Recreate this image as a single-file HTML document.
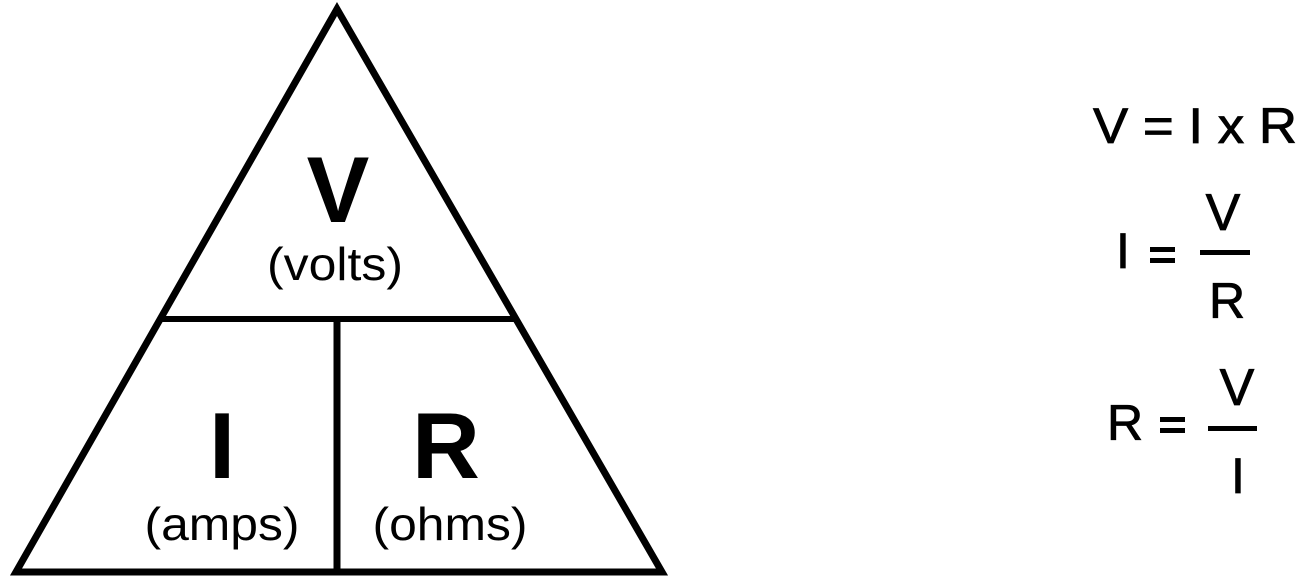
<!DOCTYPE html>
<html><head><meta charset="utf-8"><style>
html,body{margin:0;padding:0;background:#fff;}
svg{display:block;}
text{font-family:"Liberation Sans",sans-serif;fill:#000;}
.f{stroke:#000;stroke-width:0.8;}
</style></head><body>
<svg width="1298" height="578" viewBox="0 0 1298 578">
<polygon points="337,9 16,572 662,572" fill="none" stroke="#000" stroke-width="7" stroke-linejoin="miter"/>
<line x1="160" y1="319" x2="516" y2="319" stroke="#000" stroke-width="6"/>
<line x1="337" y1="319" x2="337" y2="572" stroke="#000" stroke-width="7"/>
<text x="338" y="222" font-size="94" font-weight="bold" text-anchor="middle">V</text>
<text x="335" y="280" font-size="46" text-anchor="middle" textLength="136" lengthAdjust="spacingAndGlyphs">(volts)</text>
<text x="222" y="478" font-size="94" font-weight="bold" text-anchor="middle">I</text>
<text x="446" y="478" font-size="94" font-weight="bold" text-anchor="middle">R</text>
<text x="222" y="540" font-size="46" text-anchor="middle" textLength="155" lengthAdjust="spacingAndGlyphs">(amps)</text>
<text x="450" y="540" font-size="46" text-anchor="middle" textLength="155" lengthAdjust="spacingAndGlyphs">(ohms)</text>

<text class="f" x="1093" y="143" font-size="50" textLength="204" lengthAdjust="spacingAndGlyphs">V = I x R</text>

<text class="f" x="1116" y="268" font-size="50">I</text>
<rect x="1150" y="247" width="25" height="5"/><rect x="1150" y="258" width="25" height="5"/>
<rect x="1200" y="250" width="50" height="5"/>
<text class="f" x="1223" y="230" font-size="52" text-anchor="middle">V</text>
<text class="f" x="1227" y="318" font-size="50" text-anchor="middle">R</text>

<text class="f" x="1107" y="440" font-size="50">R</text>
<rect x="1160" y="417" width="25" height="5"/><rect x="1160" y="428" width="25" height="5"/>
<rect x="1208" y="426" width="49" height="5"/>
<text class="f" x="1237" y="405" font-size="52" text-anchor="middle">V</text>
<text class="f" x="1238" y="493" font-size="50" text-anchor="middle">I</text>
</svg>
</body></html>
